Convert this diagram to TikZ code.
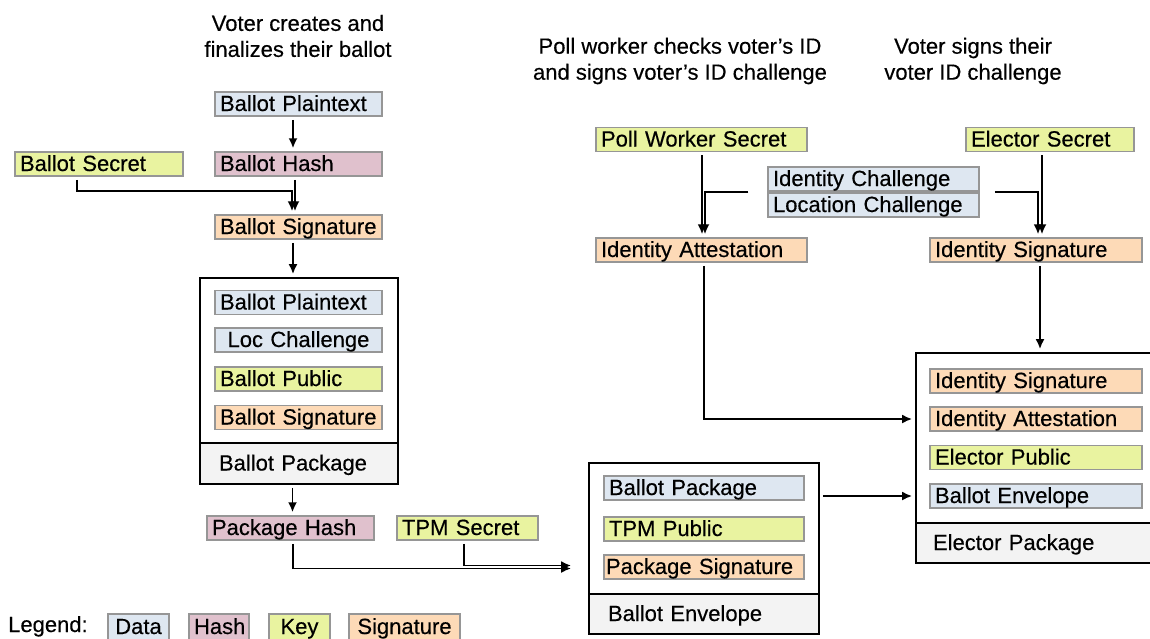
\documentclass[tikz,border=0pt]{standalone}
\usepackage{fontspec}
\setmainfont{Liberation Sans}[FakeBold=0.35]
\usetikzlibrary{arrows.meta}

\definecolor{datablue}{RGB}{222,231,241}
\definecolor{hashpink}{RGB}{224,193,205}
\definecolor{keygreen}{RGB}{233,243,160}
\definecolor{sigpeach}{RGB}{253,218,183}
\definecolor{footgray}{RGB}{243,243,243}
\definecolor{edgegray}{RGB}{150,150,150}

\begin{document}
\begin{tikzpicture}[
	x=1pt, y=-1pt,
	font=\fontsize{22}{26}\selectfont,
	itembox/.style={draw=edgegray, line width=1.5pt, inner xsep=5pt, inner ysep=0pt,
		minimum height=24pt, text height=18pt, text depth=4pt, align=left},
	datbox/.style={itembox, fill=datablue},
	hashbox/.style={itembox, fill=hashpink},
	keybox/.style={itembox, fill=keygreen},
	sigbox/.style={itembox, fill=sigpeach},
	pkgbody/.style={draw=black, line width=1.8pt, fill=white, inner sep=0pt},
	pkgfoot/.style={draw=black, line width=1.8pt, fill=footgray, inner xsep=19pt, inner ysep=0pt,
		text height=18pt, text depth=4pt, align=left},
	arr/.style={-{Latex[length=10pt,width=9pt]}, line width=1.8pt, shorten <=3pt, shorten >=3pt},
	heading/.style={align=center}
	]

	\useasboundingbox (0,0) rectangle (1150,638);
	\clip (0,0) rectangle (1150,638);

	% --- HEADINGS ---
	\node[heading] (hvoter) at (298,36) {Voter creates and\\finalizes their ballot};
	\node[heading] (hpoll) at (680,61) {Poll worker checks voter’s ID\\and signs voter’s ID challenge};
	\node[heading] (hsign) at (973,61) {Voter signs their\\voter ID challenge};

	% --- BALLOT ---
	\node[datbox, text width=157pt] (bplain) at (298.5,104) {Ballot Plaintext};
	\node[hashbox, text width=157pt] (bhash) at (298.5,164) {Ballot Hash};
	\node[keybox, text width=158pt] (bsecret) at (99,164) {Ballot Secret};
	\node[sigbox, text width=157pt] (bsig) at (298.5,227) {Ballot Signature};

	% Ballot Package
	\node[pkgbody, minimum width=198pt, minimum height=165pt] (bpkg) at (299,360.5) {};
	\node[pkgfoot, text width=160pt, minimum height=41pt] (bpkgfoot) at (299,463.5) {Ballot Package};
	\node[datbox, text width=157pt] (pplain) at (298.5,302.5) {Ballot Plaintext};
	\node[datbox, text width=157pt, align=center] (ploc) at (298.5,340) {Loc Challenge};
	\node[keybox, text width=157pt] (ppub) at (298.5,379) {Ballot Public};
	\node[sigbox, text width=157pt] (psig) at (298.5,417.5) {Ballot Signature};

	\node[hashbox, text width=157pt] (phash) at (290.5,528) {Package Hash};
	\node[keybox, text width=131pt] (tpmsec) at (467.5,528) {TPM Secret};

	% Ballot Envelope
	\node[pkgbody, minimum width=230pt, minimum height=131pt] (env) at (704,528.5) {};
	\node[pkgfoot, text width=192pt, minimum height=40pt] (envfoot) at (704,614) {Ballot Envelope};
	\node[datbox, text width=190pt] (epkg) at (704,488) {Ballot Package};
	\node[keybox, text width=190pt] (etpm) at (704,529) {TPM Public};
	\node[sigbox, text width=196pt, inner xsep=2pt] (epsig) at (704,567) {\mbox{Package Signature}};

	% --- IDENTITY ---
	\node[keybox, text width=201pt] (pwsec) at (701.5,139.5) {Poll Worker Secret};
	\node[datbox, text width=201pt] (idch) at (873.5,179) {Identity Challenge};
	\node[datbox, text width=201pt] (locch) at (873.5,205) {Location Challenge};
	\node[sigbox, text width=201pt] (idatt) at (701.5,250) {Identity Attestation};
	\node[keybox, text width=158pt] (elsec) at (1050,139.5) {Elector Secret};
	\node[sigbox, text width=202pt] (idsig) at (1036,250) {Identity Signature};

	% Elector Package (runs past the right edge)
	\node[pkgbody, minimum width=240pt, minimum height=170pt] (elec) at (1036,438) {};
	\node[pkgfoot, text width=206pt, inner xsep=17pt, minimum height=40pt] (elecfoot) at (1036,543) {Elector Package};
	\node[sigbox, text width=202pt] (esig) at (1036,381) {Identity Signature};
	\node[sigbox, text width=202pt] (eatt) at (1036,419) {Identity Attestation};
	\node[keybox, text width=202pt] (epub) at (1036,457.5) {Elector Public};
	\node[datbox, text width=202pt] (eenv) at (1036,496) {Ballot Envelope};

	% --- LEGEND ---
	\node[anchor=west, inner sep=0pt, text height=18pt, text depth=4pt] (legend) at (8,625) {Legend:};
	\node[datbox, text width=51pt, align=center, minimum height=26pt] (ldata) at (138.5,627) {Data};
	\node[hashbox, text width=50pt, align=center, minimum height=26pt] (lhash) at (219,627) {Hash};
	\node[keybox, text width=51pt, align=center, minimum height=26pt] (lkey) at (299.5,627) {Key};
	\node[sigbox, text width=101pt, align=center, minimum height=26pt] (lsig) at (404.5,627) {Signature};

	% --- ARROWS ---
	\draw[arr] ([xshift=-5.5pt]bplain.south) -- ([xshift=-5.5pt]bhash.north);
	\draw[arr] ([xshift=-3.5pt]bhash.south) -- ([xshift=-3.5pt]bsig.north);
	\coordinate (secbend) at (292,191);
	\draw[arr] ([xshift=-22pt]bsecret.south) |- (secbend) -- (secbend |- bsig.north);
	\draw[arr] ([xshift=-5.5pt]bsig.south) -- ([xshift=-6pt]bpkg.north);
	\draw[arr] ([xshift=-6.5pt]bpkgfoot.south) -- ([xshift=2pt]phash.north);

	% two inputs into the envelope
	\coordinate (envin) at (epsig.center -| env.west);
	\draw[arr, shorten >=17pt] ([xshift=2.5pt]phash.south) |- ([yshift=-1.5pt]envin);
	\draw[arr, shorten >=17pt] ([xshift=-3.5pt]tpmsec.south) |- ([yshift=1.5pt]envin);
	\draw[arr] (eenv.west -| env.east) -- (eenv.west -| elec.west);

	\draw[arr] ([xshift=0.5pt]pwsec.south) -- ([xshift=0.5pt]idatt.north);
	\draw[arr] ([xshift=-16pt]idch.south west) -| ([xshift=3.5pt]idatt.north);
	\draw[arr] ([xshift=12pt]idch.south east) -| ([xshift=2pt]idsig.north);
	\draw[arr] ([xshift=-8pt]elsec.south) -- ([xshift=6pt]idsig.north);
	\draw[arr] ([xshift=2.5pt]idatt.south) |- (eatt.west -| elec.west);
	\draw[arr] ([xshift=4pt]idsig.south) -- ([xshift=4pt]elec.north);

\end{tikzpicture}
\end{document}
